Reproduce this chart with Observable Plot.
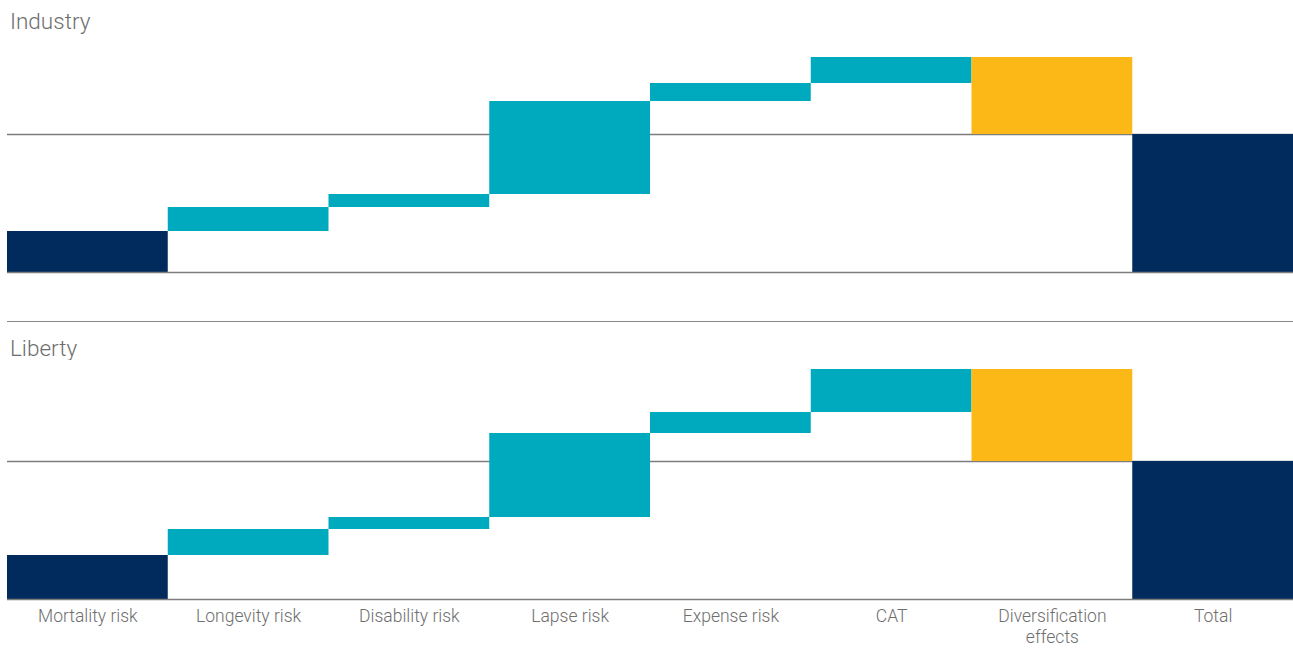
<!DOCTYPE html>
<html>
<head>
<meta charset="utf-8">
<script src="https://cdn.jsdelivr.net/npm/d3@7"></script>
<script src="https://cdn.jsdelivr.net/npm/@observablehq/plot@0.6"></script>
<style>
  html, body { margin: 0; padding: 0; background: #fff; }
  body { width: 1293px; height: 648px; position: relative; overflow: hidden;
         font-family: Roboto, "Liberation Sans", sans-serif; font-weight: 300; color: #6e6e6e; }
  .title { position: absolute; left: 10px; font-size: 22.5px; line-height: 24px; }
  .panel { position: absolute; left: 0; }
  .sep { position: absolute; left: 7px; width: 1286px; top: 321px; height: 0; border-top: 1.5px solid #8a8a8a; }
</style>
</head>
<body>
<div class="title" style="top:9px">Industry</div>
<div class="panel" id="p1" style="top:40px"></div>
<div class="sep"></div>
<div class="title" style="top:336px">Liberty</div>
<div class="panel" id="p2" style="top:360px"></div>
<script>
const categories = ["Mortality risk", "Longevity risk", "Disability risk", "Lapse risk", "Expense risk", "CAT", "Diversification effects", "Total"];
const kinds = ["base", "step", "step", "step", "step", "step", "div", "total"];
const industryValues = [41, 24, 13, 93, 18, 26, -77, 138];
const libertyValues = [44, 26, 12, 84, 21, 43, -92, 138];
const tickLabels = ["Mortality risk", "Longevity risk", "Disability risk", "Lapse risk", "Expense risk", "CAT", "Diversification\neffects", "Total"];

const colors = {base: "#002B5C", step: "#00AABE", div: "#FBB817", total: "#002B5C"};

function waterfall(values) {
  let cum = 0;
  return categories.map((c, i) => {
    const k = kinds[i], v = values[i];
    let y1, y2;
    if (k === "total") { y1 = 0; y2 = v; }
    else { y1 = cum; y2 = cum + v; cum += v; }
    return {category: c, kind: k, y1, y2};
  });
}

function panel(values, opts) {
  const data = waterfall(values);
  const top = d3.max(data, d => Math.max(d.y1, d.y2));
  const total = values[values.length - 1];
  const marks = [
    Plot.ruleY([total], {stroke: "#7d7d7d", strokeWidth: 1.5}),
    Plot.rectY(data, {x: "category", y1: "y1", y2: "y2", fill: d => colors[d.kind], inset: 0}),
    Plot.ruleY([0], {stroke: "#7d7d7d", strokeWidth: 1.5})
  ];
  if (opts.axis) {
    marks.push(Plot.axisX({tickSize: 0, tickPadding: 7, fontSize: 17.5, lineHeight: 1.22,
      fill: "#6e6e6e", label: null,
      tickFormat: d => tickLabels[categories.indexOf(d)]}));
  }
  return Plot.plot({
    width: 1293,
    height: opts.height,
    marginLeft: 7,
    marginRight: 0,
    marginTop: opts.marginTop,
    marginBottom: opts.marginBottom,
    style: {fontFamily: "Roboto, 'Liberation Sans', sans-serif", fontWeight: 300, color: "#6e6e6e", background: "#fff"},
    x: {domain: categories, padding: 0, round: false, axis: null},
    y: {domain: [0, top], axis: null},
    marks
  });
}

const p1 = panel(industryValues, {height: 250, marginTop: 17, marginBottom: 18, axis: false});
const p2 = panel(libertyValues, {height: 288, marginTop: 9, marginBottom: 49, axis: true});
document.getElementById("p1").appendChild(p1);
document.getElementById("p2").appendChild(p2);
</script>
</body>
</html>
